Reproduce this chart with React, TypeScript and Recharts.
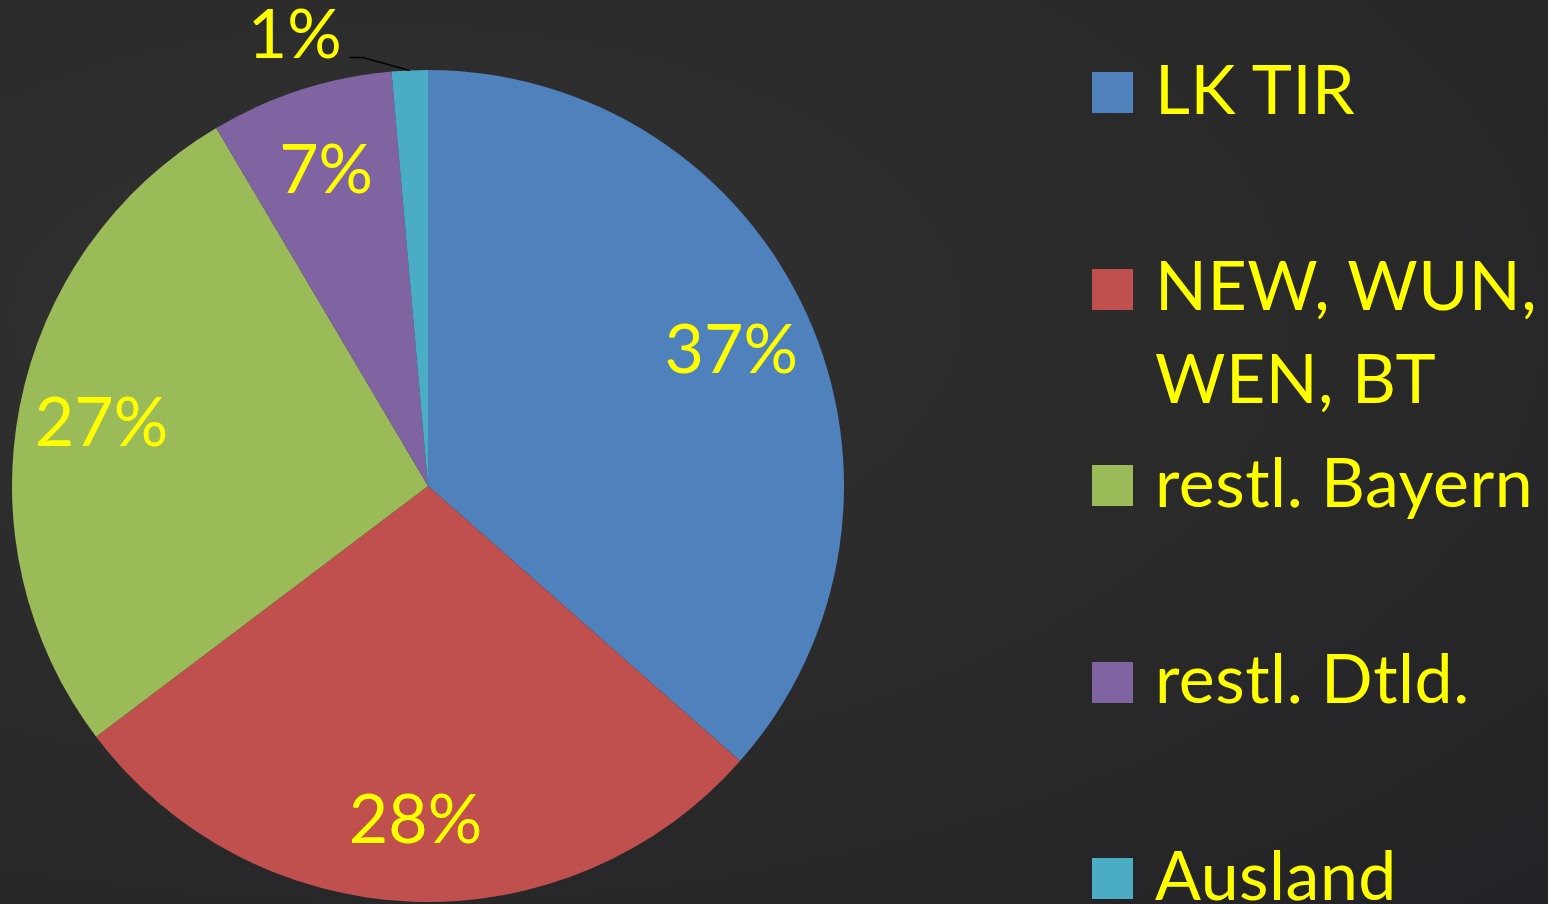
import React from 'react';
import { PieChart, Pie, Cell, Legend } from 'recharts';

const categories = ['LK TIR', 'NEW, WUN, WEN, BT', 'restl. Bayern', 'restl. Dtld.', 'Ausland'];
const shares = [36.5, 28.2, 26.8, 7.1, 1.4];
const colors = ['#4F81BD', '#C0504D', '#9BBB59', '#8064A2', '#4BACC6'];

const data = categories.map((name, i) => ({ name, value: shares[i], color: colors[i] }));

const FONT = 'Lato, "Open Sans", sans-serif';
const YELLOW = '#FFFF00';
const RADIAN = Math.PI / 180;

const renderLabel = (props: any) => {
  const { cx, cy, midAngle, outerRadius, percent } = props;
  const text = `${Math.round(percent * 100)}%`;
  if (percent < 0.03) {
    const ex = cx + outerRadius * Math.cos(-midAngle * RADIAN);
    const ey = cy + outerRadius * Math.sin(-midAngle * RADIAN);
    const mx = ex - 47;
    const my = ey - 13;
    const lx = ex - 60;
    return (
      <g>
        <polyline points={`${ex},${ey} ${mx},${my} ${lx},${my}`} fill="none" stroke="#000" strokeWidth={1.5} />
        <text x={lx - 8} y={my + 1} textAnchor="end" fill={YELLOW} fontFamily={FONT} fontSize={68}>
          {text}
        </text>
      </g>
    );
  }
  const r = outerRadius * 0.8;
  const x = cx + r * Math.cos(-midAngle * RADIAN);
  const y = cy + r * Math.sin(-midAngle * RADIAN);
  return (
    <text x={x} y={y + 24} textAnchor="middle" fill={YELLOW} fontFamily={FONT} fontSize={68}>
      {text}
    </text>
  );
};

const renderLegend = () => {
  return (
    <div style={{ position: 'relative', width: 456, height: 904 }}>
      {data.map((entry, i) => {
        const baseline = 114 + i * 196.5;
        return (
          <div key={entry.name}>
            <div
              style={{
                position: 'absolute',
                left: 0,
                top: baseline - 42,
                width: 41,
                height: 41,
                background: entry.color,
              }}
            />
            <div
              style={{
                position: 'absolute',
                left: 63,
                top: baseline - 73.5,
                width: 390,
                fontFamily: FONT,
                fontSize: 68,
                lineHeight: '93px',
                letterSpacing: '0.5px',
                color: YELLOW,
                whiteSpace: 'normal',
              }}
            >
              {entry.name}
            </div>
          </div>
        );
      })}
    </div>
  );
};

export default function App() {
  return (
    <div
      style={{
        position: 'fixed',
        left: 0,
        top: 0,
        width: 1548,
        height: 904,
        overflow: 'hidden',
        background:
          'radial-gradient(ellipse at 25% 35%, #323232 0%, #2b2b2b 45%, #232327 100%)',
      }}
    >
      <PieChart width={1548} height={904} margin={{ top: 0, right: 0, bottom: 0, left: 0 }}>
        <Pie
          data={data}
          dataKey="value"
          nameKey="name"
          cx={428}
          cy={486}
          outerRadius={416}
          startAngle={90}
          endAngle={-270}
          stroke="none"
          label={renderLabel}
          labelLine={false}
          isAnimationActive={false}
        >
          {data.map((d, i) => (
            <Cell key={i} fill={d.color} />
          ))}
        </Pie>
        <Legend
          layout="vertical"
          align="right"
          verticalAlign="top"
          content={renderLegend}
          wrapperStyle={{ left: 1092, top: 0, right: 'auto', bottom: 'auto', width: 456, height: 904 }}
        />
      </PieChart>
    </div>
  );
}
